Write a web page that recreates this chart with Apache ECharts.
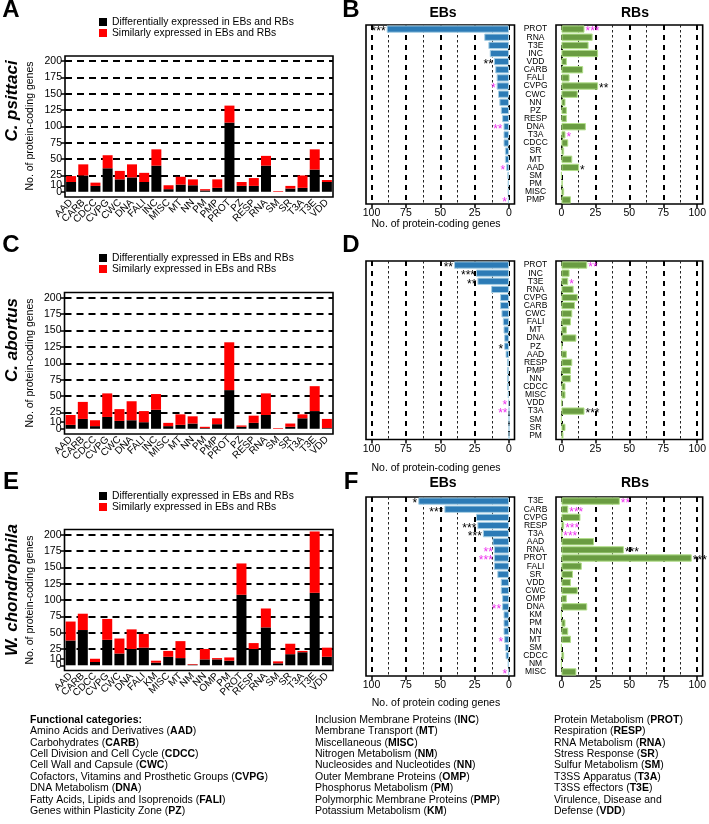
<!DOCTYPE html>
<html><head><meta charset="utf-8">
<script src="https://cdn.jsdelivr.net/npm/echarts@6/dist/echarts.min.js"></script>
<style>html,body{margin:0;padding:0;background:#fff}#c{width:709px;height:824px}</style>
</head><body><div id="c"></div>
<script>
// ---------- data ----------
const catsA = ['AAD','CARB','CDCC','CVPG','CWC','DNA','FALI','INC','MISC','MT','NN','PM','PMP','PROT','PZ','RESP','RNA','SM','SR','T3A','T3E','VDD'];
const diffA = [15,25,9,36,19,22,15,40,4,11,10,2,6,106,9,9,40,0,5,6,34,15];
const simA  = [9,17,5,20,13,20,14,25,6,12,9,2,13,26,6,12,15,1,4,19,31,3];

const catsC = ['AAD','CARB','CDCC','CVPG','CWC','DNA','FALI','INC','MISC','MT','NN','PM','PMP','PROT','PZ','RESP','RNA','SM','SR','T3A','T3E','VDD'];
const diffC = [6,15,4,18,12,13,10,29,4,6,8,1,7,59,3,9,21,0,3,16,27,1];
const simC  = [15,26,9,36,18,29,17,24,5,16,11,2,9,73,2,11,33,1,5,6,38,14];

const catsE = ['AAD','CARB','CDCC','CVPG','CWC','DNA','FALI','KM','MISC','MT','NM','NN','OMP','PM','PROT','RESP','RNA','SM','SR','T3A','T3E','VDD'];
const diffE = [38,54,5,39,18,25,27,4,13,11,1,9,9,7,108,25,58,3,17,20,111,13];
const simE  = [29,25,5,32,23,30,21,3,9,26,1,16,2,5,48,9,29,3,16,2,94,14];

const catsB = ['PROT','RNA','T3E','INC','VDD','CARB','FALI','CVPG','CWC','NN','PZ','RESP','DNA','T3A','CDCC','SR','MT','AAD','SM','PM','MISC','PMP'];
const ebB = [89,18,15,14,11,10,9,9,8,7,6,5,4,4,4,3,3,2,1.2,1,1,0.8];
const rbB = [17,23,20,27,4,16,6,27,12,3,4,4,18,3,5,2,8,13,0,1,2,7];
const ebStarsB = ['k***','','','','k**','','','m*','','','','','m**','','','','','m*','','','','m*'];
const rbStarsB = ['m***','','','','','','','k**','','','','','','m*','','','','k*','','','',''];

const catsD = ['PROT','INC','T3E','RNA','CVPG','CARB','CWC','FALI','MT','DNA','PZ','AAD','RESP','PMP','NN','CDCC','MISC','VDD','T3A','SM','SR','PM'];
const ebD = [40,24,23,13,6.5,6.5,5.5,4.5,4,3.5,3.5,2.5,1.5,1.5,1.5,1.5,1,0.5,0,0,0,0];
const rbD = [19,6,5,9,12,10,8,7,4,11,0.5,4,8,7,7,3,3,0.5,17,0,3,1.5];
const ebStarsD = ['k**','k***','k**','','','','','','','','k*','','','','','','','m*','m**','','',''];
const rbStarsD = ['m**','','m*','','','','','','','','','','','','','','','','k***','','',''];

const catsF = ['T3E','CARB','CVPG','RESP','T3A','AAD','RNA','PROT','FALI','SR','VDD','CWC','OMP','DNA','KM','PM','NN','MT','SM','CDCC','NM','MISC'];
const ebF = [66,47,24,23,19,12,11,11,11,8.5,6,6,5,5,4,4,4,3.5,3,2.5,1,0.5];
const rbF = [43,5,14,2,0.5,24,46,96,15,8.5,7,12,4,19,0,3,5,7,0,2,0,11];
const ebStarsF = ['k*','k***','','k***','k***','','m**','m***','','','','','','m**','','','','m*','','','','m*'];
const rbStarsF = ['m**','m***','','m***','m***','','k***','k***','','','','','','','','','','','','','',''];

const yTicksMain = [0,25,50,75,100,125,150,175,200];
const yTicksExtra = [10];
const yGridVals = [25,50,75,100,125,150,175,200];
const xTicksH = [0,25,50,75,100];
const xThinH = [12.5,37.5,62.5,87.5];

const legendCol1 = [['Amino Acids and Derivatives','AAD'],['Carbohydrates','CARB'],['Cell Division and Cell Cycle','CDCC'],['Cell Wall and Capsule','CWC'],['Cofactors, Vitamins and Prosthetic Groups','CVPG'],['DNA Metabolism','DNA'],['Fatty Acids, Lipids and Isoprenoids','FALI'],['Genes within Plasticity Zone','PZ']];
const legendCol2 = [['Inclusion Membrane Proteins','INC'],['Membrane Transport','MT'],['Miscellaneous','MISC'],['Nitrogen Metabolism','NM'],['Nucleosides and Nucleotides','NN'],['Outer Membrane Proteins','OMP'],['Phosphorus Metabolism','PM'],['Polymorphic Membrane Proteins','PMP'],['Potassium Metabolism','KM']];
const legendCol3 = [['Protein Metabolism','PROT'],['Respiration','RESP'],['RNA Metabolism','RNA'],['Stress Response','SR'],['Sulfur Metabolism','SM'],['T3SS Apparatus','T3A'],['T3SS effectors','T3E'],['Virulence, Disease and',''],['Defense','VDD']];

// ---------- styling ----------
const FONT = "'Liberation Sans', Arial, Helvetica, sans-serif";
const BLUE='#2c7bb6', BLUE_EDGE='#a6cee3', GREEN='#6a9c42', GREEN_EDGE='#b2df8a', MAG='#ee33ee';
const grids=[], xAxes=[], yAxes=[], series=[], graphics=[];
const tickLine = {color:'#000', width:1.5};

function valueY(gi, ticks){
  return {gridIndex:gi, type:'value', min:-8, max:208, position:'left', offset:0, axisLine:{show:false},
    axisTick:{show:true, customValues:ticks, length:4, lineStyle:tickLine},
    axisLabel:{customValues:ticks, hideOverlap:false, showMinLabel:true, showMaxLabel:true, fontSize:10.5, color:'#000', fontFamily:FONT, margin:3},
    splitLine:{show:false}};
}

function stackPanel(box, cats, diff, sim){
  const gi = grids.length;
  grids.push({left:box.l, top:box.t, width:box.w, height:box.h, show:true, borderColor:'#000', borderWidth:1.6, backgroundColor:'transparent'});
  xAxes.push({gridIndex:gi, type:'category', data:cats, axisLine:{show:false},
    axisTick:{alignWithLabel:true, interval:0, length:5, lineStyle:tickLine},
    axisLabel:{interval:0, rotate:45, fontSize:10, color:'#000', fontFamily:FONT, margin:4}, splitLine:{show:false}});
  const xi = xAxes.length-1;
  const yi = yAxes.length;
  yAxes.push(valueY(gi, yTicksMain));
  yAxes.push(valueY(gi, yTicksExtra));
  series.push({type:'bar', xAxisIndex:xi, yAxisIndex:yi, stack:'s'+gi, data:diff, barWidth:'82%', silent:true,
    itemStyle:{color:'#000'},
    markLine:{silent:true, z:1, symbol:['none','none'], label:{show:false}, animation:false,
      lineStyle:{color:'#000', width:1.8, type:[7,5]}, data: yGridVals.map(v=>({yAxis:v}))}});
  series.push({type:'bar', xAxisIndex:xi, yAxisIndex:yi, stack:'s'+gi, data:sim, barWidth:'82%', silent:true,
    itemStyle:{color:'#ff0000'}});
}

function starLabel(s, side){
  if(!s) return {show:false};
  return {show:true, position:side, distance:1, formatter:s.slice(1), color:s[0]==='k'?'#000':MAG,
    fontSize:12, fontFamily:FONT, offset:[0,3]};
}

function hPanel(box, cats, vals, stars, isEB){
  const gi = grids.length;
  grids.push({left:box.l, top:box.t, width:box.w, height:box.h, show:true, borderColor:'#000', borderWidth:1.6, backgroundColor:'transparent'});
  xAxes.push({gridIndex:gi, type:'value', min:-4, max:104, inverse:isEB, axisLine:{show:false},
    axisTick:{show:true, customValues:xTicksH, length:4, lineStyle:tickLine},
    axisLabel:{customValues:xTicksH, hideOverlap:false, fontSize:10.5, color:'#000', fontFamily:FONT, margin:4}, splitLine:{show:false}});
  const xi = xAxes.length-1;
  yAxes.push({gridIndex:gi, type:'category', data:cats, inverse:true, position:isEB?'right':'left', axisLine:{show:false},
    axisTick:{alignWithLabel:true, interval:0, length:4, lineStyle:{color:'#000', width:1}},
    axisLabel: isEB ? {interval:0, align:'center', margin:21, fontSize:8.5, color:'#000', fontFamily:FONT} : {show:false}});
  const yi = yAxes.length-1;
  const lines = xTicksH.map(v=>({xAxis:v, lineStyle:{type:[5,5], width:2, color:'#000'}}))
     .concat(xThinH.map(v=>({xAxis:v, lineStyle:{type:[2.5,2.5], width:1, color:'#222'}})));
  series.push({type:'bar', xAxisIndex:xi, yAxisIndex:yi, barWidth:'90%', silent:true,
    data: vals.map((v,i)=>({value:v, label:starLabel(stars[i], isEB?'left':'right')})),
    itemStyle:{color:isEB?BLUE:GREEN, borderColor:isEB?BLUE_EDGE:GREEN_EDGE, borderWidth:1},
    markLine:{silent:true, z:1, symbol:['none','none'], label:{show:false}, animation:false, data:lines}});
}

// ---------- panels ----------
stackPanel({l:65, t:56, w:268, h:141}, catsA, diffA, simA);
hPanel({l:366, t:25, w:148.5, h:179}, catsB, ebB, ebStarsB, true);
hPanel({l:556, t:25, w:150, h:179}, catsB, rbB, rbStarsB, false);
stackPanel({l:64.5, t:292.5, w:268.5, h:141.5}, catsC, diffC, simC);
hPanel({l:366, t:261, w:148.5, h:178.5}, catsD, ebD, ebStarsD, true);
hPanel({l:556, t:261, w:150, h:178.5}, catsD, rbD, rbStarsD, false);
stackPanel({l:64.5, t:529.5, w:268.5, h:141}, catsE, diffE, simE);
hPanel({l:366, t:497, w:148.5, h:179}, catsF, ebF, ebStarsF, true);
hPanel({l:556, t:497, w:150, h:179}, catsF, rbF, rbStarsF, false);

// ---------- text graphics ----------
function T(x,y,text,o){
  o=o||{};
  graphics.push({type:'text', x:x, y:y, rotation:o.rot||0, silent:true, z:10,
    style:{text:text, fontSize:o.fs||10.5, fontWeight:o.fw||'normal', fontStyle:o.fst||'normal', fontFamily:FONT,
      fill:o.c||'#000', align:o.al||'center', verticalAlign:o.va||'middle', rich:o.rich}});
}
[['A',11,10],['B',351,10],['C',11,245],['D',351,245],['E',11,482],['F',351,482]].forEach(a=>T(a[1],a[2],a[0],{fs:24,fw:'bold'}));
[22,258,496].forEach(y=>{
  graphics.push({type:'rect', shape:{x:99,y:y-4,width:8,height:8}, style:{fill:'#000'}, silent:true});
  graphics.push({type:'rect', shape:{x:99,y:y+7,width:8,height:8}, style:{fill:'#ff0000'}, silent:true});
  T(112,y,'Differentially expressed in EBs and RBs',{al:'left',fs:10.3});
  T(112,y+11,'Similarly expressed in EBs and RBs',{al:'left',fs:10.3});
});
[[126,'C. psittaci',101],[363,'C. abortus',340],[600,'W. chondrophila',590]].forEach(a=>{
  T(30,a[0],'No. of protein-coding genes',{rot:Math.PI/2});
  T(12,a[2],a[1],{rot:Math.PI/2, fs:17, fw:'bold', fst:'italic'});
});
T(443,13,'EBs',{fs:14,fw:'bold'}); T(635,13,'RBs',{fs:14,fw:'bold'});
T(443,483,'EBs',{fs:14,fw:'bold'}); T(635,483,'RBs',{fs:14,fw:'bold'});
T(436,224,'No. of protein-coding genes');
T(436,468,'No. of protein-coding genes');
T(436,703,'No. of protein coding genes');
const rich = {n:{fontSize:10.5,fontFamily:FONT,fill:'#000'}, b:{fontSize:10.5,fontFamily:FONT,fontWeight:'bold',fill:'#000'}};
function entry(e){ return e[1] ? '{n|'+e[0]+' (}{b|'+e[1]+'}{n|)}' : '{n|'+e[0]+'}'; }
const ly0 = 720, lstep = 11.4;
T(30, ly0, '{b|Functional categories:}', {al:'left', rich});
legendCol1.forEach((e,i)=>T(30, ly0+lstep*(i+1), entry(e), {al:'left', rich}));
legendCol2.forEach((e,i)=>T(315, ly0+lstep*i, entry(e), {al:'left', rich}));
legendCol3.forEach((e,i)=>T(554, ly0+lstep*i, entry(e), {al:'left', rich}));

const chart = echarts.init(document.getElementById('c'), null, {renderer:'canvas'});
chart.setOption({animation:false, backgroundColor:'#fff', grid:grids, xAxis:xAxes, yAxis:yAxes, series:series, graphic:graphics});
</script></body></html>
